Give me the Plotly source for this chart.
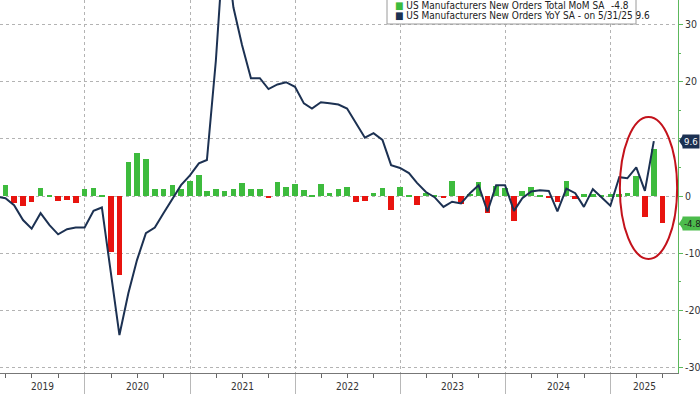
import pandas as pd
import plotly.graph_objects as go

# ---------------- data ----------------
months = [p.end_time.strftime("%Y-%m-%d") for p in pd.period_range("2019-02", "2025-06", freq="M")]

yoy = [
    # 2019 Feb-Dec
    -0.1, -0.4, -1.6, -4.2, -5.7, -3.0, -5.1, -6.7, -5.8, -5.5, -5.5,
    # 2020
    -2.6, -2.0, -13.0, -24.3, -17.0, -11.2, -6.5, -5.5, -3.0, -0.5, 1.9, 3.6,
    # 2021
    5.7, 6.3, 23.6, 46.0, 33.0, 26.4, 20.6, 20.6, 18.7, 19.5, 19.9, 19.1,
    # 2022
    16.2, 15.3, 16.4, 16.2, 16.0, 15.3, 12.7, 10.2, 11.0, 9.8, 5.4, 4.9,
    # 2023
    4.0, 2.3, 0.7, -0.2, -1.9, -1.0, -1.3, 0.5, 1.9, -2.7, 1.9, 1.9,
    # 2024
    -2.6, -0.4, 0.8, 1.0, 0.9, -2.7, 1.3, 0.5, -1.9, 1.2, -0.2, -1.7,
    # 2025 Jan-Jun
    3.3, 3.1, 5.0, 0.9, 9.6, None,
]

mom = [
    # 2019 Feb-Dec
    None, 2.0, -1.2, -1.8, -1.0, 1.4, 0.1, -0.8, -0.7, -1.2, 1.2,
    # 2020
    1.45, 0.1, -9.7, -13.8, 5.9, 7.6, 6.5, 1.2, 1.3, 2.0, 1.2, 2.7,
    # 2021
    3.7, 0.8, 1.2, 0.9, 1.25, 2.2, 1.2, 1.2, -0.2, 2.5, 1.6, 2.1,
    # 2022
    1.0, 0.1, 2.1, 0.6, 1.2, 1.6, -1.0, -0.9, 0.6, 1.4, -2.4, 1.6,
    # 2023
    0.1, -1.6, 0.5, 0.1, -0.3, 2.7, -1.4, 0.4, 2.5, -3.0, 1.7, 1.45,
    # 2024
    -4.4, 0.85, 1.5, 0.1, -0.4, -1.0, 2.7, -0.5, 0.3, 0.3, 0.1, 0.3,
    # 2025 Jan-Jun
    0.3, 0.6, 3.5, -3.7, 8.3, -4.8,
]

years = ["2019", "2020", "2021", "2022", "2023", "2024", "2025"]
y_ticks = [-30, -20, -10, 0, 10, 20, 30]
y_ticktext = ["-30", "-20", "-10", "0", "", "20", "30"]

mom_name = "US Manufacturers New Orders Total MoM SA"
yoy_name = "US Manufacturers New Orders YoY SA - on"

# ---------------- style ----------------
GREEN = "#3dbb3d"
RED = "#e8140f"
NAVY = "#1c3152"
AXGREEN = "#5cb85c"
GRID = "#b3b3b3"
FONT = "Liberation Sans Narrow, Arial Narrow, DejaVu Sans Condensed, Liberation Sans, Arial, sans-serif"

X_RANGE = ["2019-03-12", "2025-08-23"]
Y_RANGE = [-30.94, 34.27]

fig = go.Figure()

bar_colors = [GREEN if (v is not None and v >= 0) else RED for v in mom]
fig.add_trace(go.Bar(
    x=months, y=mom, marker=dict(color=bar_colors, line=dict(width=0)),
    width=1.70e9, name=mom_name, showlegend=False,
))
fig.add_trace(go.Scatter(
    x=months, y=yoy, mode="lines", line=dict(color=NAVY, width=2),
    name=yoy_name, showlegend=False, connectgaps=False,
))

# ---------------- layout ----------------
PW, PH = 678, 373  # plot area in px

def px_x(p):
    return p / PW

def px_y(p):
    return (PH - p) / PH

fig.update_layout(
    width=700, height=394,
    margin=dict(l=0, r=22, t=0, b=21),
    paper_bgcolor="white", plot_bgcolor="white",
    showlegend=False, bargap=0,
    font=dict(family=FONT, size=10, color="#333"),
    xaxis=dict(
        type="date", range=X_RANGE,
        tick0="2019-01-01", dtick="M12",
        showticklabels=False,
        showgrid=True, gridcolor=GRID, griddash="dot", gridwidth=1,
        ticks="outside", ticklen=21, tickcolor="#b8b8b8", tickwidth=1,
        minor=dict(dtick="M3", tick0="2019-01-01", ticks="outside", ticklen=4,
                   tickcolor="#666", tickwidth=1, showgrid=False),
        showline=True, linecolor="#777", linewidth=1,
        zeroline=False, fixedrange=True,
    ),
    yaxis=dict(
        side="right", range=Y_RANGE,
        tickvals=y_ticks, ticktext=y_ticktext,
        showgrid=True, gridcolor=GRID, griddash="dot", gridwidth=1,
        zeroline=False,
        showline=True, linecolor=AXGREEN, linewidth=1,
        ticks="outside", ticklen=4, tickcolor=AXGREEN, tickwidth=1,
        minor=dict(dtick=5, tick0=0, ticks="outside", ticklen=2, tickcolor=AXGREEN, showgrid=False),
        tickfont=dict(size=10.5, color="#333", family=FONT),
        automargin=False, fixedrange=True,
    ),
)

annotations = []
shapes = []

# year labels centred in the visible part of each year
r0 = pd.Timestamp(X_RANGE[0])
r1 = pd.Timestamp(X_RANGE[1])
for yr in years:
    a = max(pd.Timestamp(f"{yr}-01-01"), r0)
    b = min(pd.Timestamp(f"{int(yr) + 1}-01-01"), r1)
    mid = a + (b - a) / 2
    annotations.append(dict(
        x=mid.strftime("%Y-%m-%d %H:%M"), y=px_y(386), xref="x", yref="paper",
        text=yr, showarrow=False, xanchor="center", yanchor="middle",
        font=dict(size=10, color="#333", family=FONT),
    ))

# legend box
shapes.append(dict(
    type="rect", xref="paper", yref="paper",
    x0=px_x(387), x1=px_x(636), y0=px_y(24), y1=px_y(-6),
    fillcolor="white", line=dict(color="#9a9a9a", width=1), layer="above",
))
last_yoy_idx = max(i for i, v in enumerate(yoy) if v is not None)
last_yoy = yoy[last_yoy_idx]
last_mom = mom[-1]
d = pd.Timestamp(months[last_yoy_idx])
date_txt = f"{d.month}/{d.day}/{d.strftime('%y')}"

ROW1, ROW2 = 5.5, 15.5
# row 1: label + right-aligned value
annotations.append(dict(
    x=px_x(393), y=px_y(ROW1), xref="paper", yref="paper",
    text=f"<span style='color:{GREEN}'>■</span> {mom_name}",
    showarrow=False, xanchor="left", yanchor="middle",
    font=dict(size=10, color="#222", family=FONT),
))
annotations.append(dict(
    x=px_x(631), y=px_y(ROW1), xref="paper", yref="paper",
    text=f"{last_mom:.1f}", showarrow=False, xanchor="right", yanchor="middle",
    font=dict(size=10, color="#222", family=FONT),
))
# row 2: label with inline value
annotations.append(dict(
    x=px_x(393), y=px_y(ROW2), xref="paper", yref="paper",
    text=f"<span style='color:{NAVY}'>■</span> {yoy_name} {date_txt} {last_yoy:.1f}",
    showarrow=False, xanchor="left", yanchor="middle",
    font=dict(size=10, color="#222", family=FONT),
))

# right-hand value tags
for val, bg, fg in [(last_yoy, NAVY, "white"), (last_mom, "#4cbc4c", "#1a1a1a")]:
    h = 6.0 / 5.72
    shapes.append(dict(
        type="path", xref="paper", yref="y",
        path=f"M {px_x(679)},{val} L {px_x(683)},{val + h} L {px_x(683)},{val - h} Z",
        fillcolor=bg, line=dict(width=0), layer="above",
    ))
    annotations.append(dict(
        x=1.0, y=val, xref="paper", yref="y", xanchor="left", yanchor="middle",
        xshift=4, text=f"{val:.1f}", showarrow=False,
        bgcolor=bg, borderpad=1, font=dict(size=9.5, color=fg, family=FONT),
    ))

# red ellipse highlighting latest months
shapes.append(dict(
    type="circle", xref="x", yref="y",
    x0="2025-02-02", x1="2025-08-20", y0=-11.0, y1=13.8,
    line=dict(color="#c3121b", width=2), fillcolor="rgba(0,0,0,0)", layer="above",
))

fig.update_layout(annotations=annotations, shapes=shapes)

fig.write_html(
    "out.html",
    config={"displayModeBar": False},
    post_script="document.body.style.margin='0';document.body.style.overflow='hidden';",
)
